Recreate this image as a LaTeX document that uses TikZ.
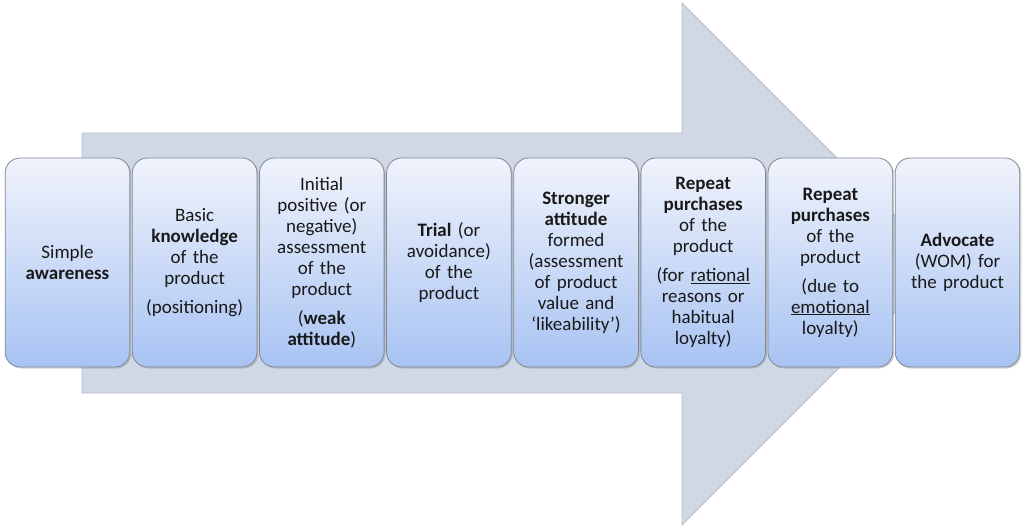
\documentclass[tikz,border=0pt]{standalone}
\usepackage{fontspec}
\setmainfont{Carlito}
\usepackage{tikz}
\usetikzlibrary{shadows}
\definecolor{arrowfill}{HTML}{D0D8E5}
\definecolor{arrowline}{HTML}{B4BDCB}
\definecolor{boxtop}{HTML}{F0F3FB}
\definecolor{boxbottom}{HTML}{A8C3F3}
\definecolor{boxline}{HTML}{7D8796}
\tikzstyle{stage} = [rectangle, rounded corners=15pt, minimum width=121pt, minimum height=209pt, text width=118pt, align=center, draw=boxline, line width=0.8pt, top color=boxtop, bottom color=boxbottom, drop shadow={shadow xshift=1.5pt, shadow yshift=-1.5pt, opacity=0.35}, font=\fontsize{19}{21}\selectfont, text=black!90]
\tikzstyle{bigarrow} = [fill=arrowfill, draw=arrowline, line width=0.8pt]

\begin{document}
\begin{tikzpicture}[x=1pt, y=-1pt, node distance=127.14pt]
    \useasboundingbox (0,0) rectangle (1024,530);
    % Background arrow
    \draw [bigarrow] (82,133) -- (682,133) -- (682,3) -- (943,264) -- (682,525) -- (682,393) -- (82,393) -- cycle;
    % Nodes
    \node (awareness) [stage] at (67.5,262.5) {Simple\\ \textbf{awareness}};
    \node (knowledge) [stage, right of=awareness] {Basic\\ \textbf{knowledge}\\ of the\\ product\\[8pt] (positioning)};
    \node (assess) [stage, right of=knowledge] {Initial\\ positive (or\\ negative)\\ assessment\\ of the\\ product\\[8pt] (\textbf{weak}\\ \textbf{attitude})};
    \node (trial) [stage, right of=assess] {\textbf{Trial} (or\\ avoidance)\\ of the\\ product};
    \node (stronger) [stage, right of=trial] {\textbf{Stronger}\\ \textbf{attitude}\\ formed\\ (assessment\\ of product\\ value and\\ ‘likeability’)};
    \node (rational) [stage, right of=stronger] {\textbf{Repeat}\\ \textbf{purchases}\\ of the\\ product\\[8pt] (for \underline{rational}\\ reasons or\\ habitual\\ loyalty)};
    \node (emotional) [stage, right of=rational] {\textbf{Repeat}\\ \textbf{purchases}\\ of the\\ product\\[8pt] (due to\\ \underline{emotional}\\ loyalty)};
    \node (advocate) [stage, right of=emotional] {\textbf{Advocate}\\ (WOM) for\\ the product};
\end{tikzpicture}
\end{document}
